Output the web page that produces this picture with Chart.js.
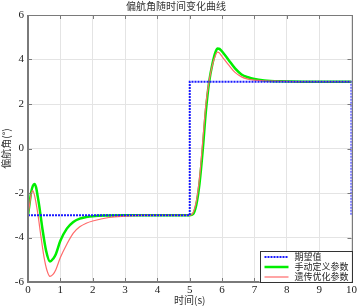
<!DOCTYPE html>
<html>
<head>
<meta charset="utf-8">
<script src="https://cdn.jsdelivr.net/npm/chart.js@4/dist/chart.umd.min.js"></script>
<style>
  html, body { margin: 0; padding: 0; background: #fff; }
  #wrap { width: 359px; height: 306px; }
</style>
</head>
<body>
<div id="wrap"><canvas id="yaw"></canvas></div>
<script>
// desired yaw (square step)
const refTimes = [0, 5, 5, 10, 10];
const refValues = [-3, -3, 3, 3, -3];

// manual tuned parameters
const manualTimes = [0, 0.05, 0.1, 0.15, 0.2, 0.25, 0.3, 0.35, 0.45, 0.56, 0.68, 0.78, 0.86, 1.0, 1.2, 1.4, 1.6, 1.8, 2.0, 2.5, 3, 4, 5,
    5.1, 5.2, 5.3, 5.4, 5.5, 5.6, 5.7, 5.8, 5.86, 5.92, 6.0, 6.2, 6.4, 6.6, 6.8, 7.0, 7.3, 7.8, 8.5, 10];
const manualValues = [-3, -2.45, -1.95, -1.68, -1.59, -1.75, -2.15, -2.6, -3.65, -4.6, -5.08, -4.95, -4.75, -4.15, -3.6, -3.3, -3.15, -3.08, -3.04, -3.01, -3, -3, -3,
    -2.95, -2.55, -1.6, -0.1, 1.7, 3.0, 3.8, 4.35, 4.5, 4.48, 4.36, 3.98, 3.6, 3.33, 3.2, 3.12, 3.06, 3.02, 3.0, 3.0];

// GA optimised parameters
const gaTimes = [0, 0.05, 0.1, 0.145, 0.2, 0.3, 0.4, 0.5, 0.58, 0.68, 0.78, 0.86, 1.0, 1.2, 1.4, 1.6, 1.8, 2.0, 2.5, 3, 3.5, 4, 5,
    5.1, 5.2, 5.3, 5.4, 5.5, 5.6, 5.7, 5.8, 5.85, 5.9, 6.0, 6.2, 6.4, 6.6, 6.8, 7.0, 7.3, 7.8, 8.5, 10];
const gaValues = [-3, -2.5, -2.05, -1.89, -2.1, -2.9, -3.95, -4.92, -5.45, -5.75, -5.65, -5.45, -4.9, -4.3, -3.8, -3.52, -3.36, -3.26, -3.1, -3.04, -3.01, -3, -3,
    -2.9, -2.4, -1.35, 0.3, 2.0, 3.05, 3.75, 4.2, 4.33, 4.31, 4.13, 3.76, 3.42, 3.22, 3.12, 3.07, 3.04, 3.02, 3.0, 3.0];

const xTicks = [0, 1, 2, 3, 4, 5, 6, 7, 8, 9, 10];
const yTicks = [-6, -4, -2, 0, 2, 4, 6];

const seriesNames = ['期望值', '手动定义参数', '遗传优化参数'];
const seriesColors = ['#1a1aff', '#00ee00', '#ff6a6a'];

function pairs(xs, ys) {
    return xs.map((x, i) => ({ x: x, y: ys[i] }));
}

const serifFont = '"Liberation Serif", "DejaVu Serif", serif';
const cjkFont = '"Noto Sans CJK SC", "Liberation Serif", serif';

// frame, inner ticks and legend box
const framePlugin = {
    id: 'frame',
    afterDatasetsDraw(chart) {
        const { ctx, chartArea: a, scales } = chart;
        ctx.save();
        ctx.strokeStyle = '#7a7a7a';
        ctx.lineWidth = 1;
        // inner ticks
        ctx.beginPath();
        xTicks.forEach(v => {
            const px = Math.round(scales.x.getPixelForValue(v)) + 0.5;
            ctx.moveTo(px, a.bottom); ctx.lineTo(px, a.bottom - 4);
            ctx.moveTo(px, a.top); ctx.lineTo(px, a.top + 4);
        });
        yTicks.forEach(v => {
            const py = Math.round(scales.y.getPixelForValue(v)) + 0.5;
            ctx.moveTo(a.left, py); ctx.lineTo(a.left + 4, py);
            ctx.moveTo(a.right, py); ctx.lineTo(a.right - 4, py);
        });
        ctx.stroke();
        ctx.strokeRect(Math.round(a.left) + 0.5, Math.round(a.top) + 0.5,
            Math.round(a.right - a.left), Math.round(a.bottom - a.top));
        // heavier left and bottom axes
        ctx.lineWidth = 2;
        ctx.beginPath();
        ctx.moveTo(Math.round(a.left), a.top);
        ctx.lineTo(Math.round(a.left), Math.round(a.bottom));
        ctx.lineTo(a.right, Math.round(a.bottom));
        ctx.stroke();

        // legend
        const w = 92, h = 31;
        const lx = a.right - w, ly = a.bottom - h;
        ctx.fillStyle = '#fff';
        ctx.fillRect(lx, ly, w, h);
        ctx.strokeStyle = '#333';
        ctx.lineWidth = 1;
        ctx.strokeRect(Math.round(lx) + 0.5, Math.round(ly) + 0.5, w, h);
        ctx.font = '9px ' + cjkFont;
        ctx.textBaseline = 'middle';
        ctx.textAlign = 'left';
        seriesNames.forEach((name, i) => {
            const ry = ly + 6 + i * 10;
            ctx.strokeStyle = seriesColors[i];
            ctx.lineWidth = i === 0 ? 2 : (i === 1 ? 2.5 : 1.2);
            ctx.setLineDash(i === 0 ? [2, 1] : []);
            ctx.beginPath();
            ctx.moveTo(lx + 5, ry);
            ctx.lineTo(lx + 29, ry);
            ctx.stroke();
            ctx.setLineDash([]);
            ctx.fillStyle = '#222';
            ctx.fillText(name, lx + 35, ry);
        });
        ctx.restore();
    }
};

new Chart(document.getElementById('yaw'), {
    type: 'line',
    data: {
        datasets: [
            {
                label: seriesNames[0],
                data: pairs(refTimes, refValues),
                borderColor: seriesColors[0],
                borderWidth: 2,
                borderDash: [2, 1],
                pointRadius: 0,
                tension: 0,
                order: 0,
            },
            {
                label: seriesNames[1],
                data: pairs(manualTimes, manualValues),
                borderColor: seriesColors[1],
                borderWidth: 2.5,
                pointRadius: 0,
                cubicInterpolationMode: 'monotone',
                order: 2,
            },
            {
                label: seriesNames[2],
                data: pairs(gaTimes, gaValues),
                borderColor: seriesColors[2],
                borderWidth: 1.2,
                pointRadius: 0,
                cubicInterpolationMode: 'monotone',
                order: 1,
            }
        ]
    },
    options: {
        responsive: true,
        maintainAspectRatio: false,
        animation: false,
        layout: { padding: { top: 0, right: 7, bottom: 0, left: 0 } },
        plugins: {
            legend: { display: false },
            tooltip: { enabled: false },
            title: {
                display: true,
                text: '偏航角随时间变化曲线',
                color: '#333',
                font: { family: cjkFont, size: 10, weight: 'normal' },
                padding: { top: 0, bottom: 3 }
            }
        },
        scales: {
            x: {
                type: 'linear',
                min: 0,
                max: 10,
                afterBuildTicks: s => { s.ticks = xTicks.map(v => ({ value: v })); },
                afterFit: s => { s.height = 24; },
                ticks: { color: '#222', padding: 2, font: { family: serifFont, size: 11 } },
                grid: { color: '#e4e4e4', drawTicks: false },
                border: { display: false },
                title: {
                    display: true,
                    text: '时间(s)',
                    color: '#333',
                    padding: 0,
                    font: { family: cjkFont, size: 10 }
                }
            },
            y: {
                min: -6,
                max: 6,
                afterBuildTicks: s => { s.ticks = yTicks.map(v => ({ value: v })); },
                afterFit: s => { s.width = 28; },
                ticks: { color: '#222', padding: 4, font: { family: serifFont, size: 11 } },
                grid: { color: '#e4e4e4', drawTicks: false },
                border: { display: false },
                title: {
                    display: true,
                    text: '偏航角(°)',
                    color: '#333',
                    padding: 0,
                    font: { family: cjkFont, size: 10 }
                }
            }
        }
    },
    plugins: [framePlugin]
});
</script>
</body>
</html>
